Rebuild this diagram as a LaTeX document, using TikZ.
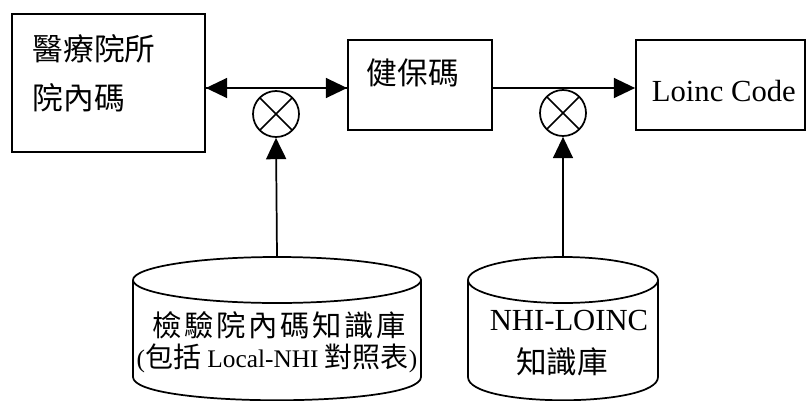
\documentclass[tikz,border=0pt]{standalone}
\usepackage{fontspec}
\setmainfont{Liberation Serif}
\newfontfamily\cjk{Noto Sans CJK TC}
\newfontfamily\cjkwide[LetterSpace=9]{Noto Sans CJK TC}
\usetikzlibrary{arrows.meta,positioning}

\tikzset{every picture/.style={line width=1.3pt}}
\tikzset{
  blk/.style={draw, inner sep=0pt},
  mixer/.style={draw, circle, inner sep=0pt, minimum size=34.5pt,
    path picture={\draw (path picture bounding box.south west) -- (path picture bounding box.north east)
      (path picture bounding box.north west) -- (path picture bounding box.south east);}},
  tip/.style={-{Triangle[length=16pt,width=15pt]}},
  big/.style={font=\fontsize{23}{26}\selectfont\cjk},
  bigrm/.style={font=\fontsize{23}{26}\selectfont}
}

\begin{document}
\begin{tikzpicture}[x=0.75pt,y=0.75pt,yscale=-1,xscale=1]
\useasboundingbox (0,0) rectangle (810,400);

%Shape: Rectangle [hospital]
\node [blk, minimum width=144.75pt, minimum height=103.5pt] (hosp) at (108.5,83) {};
%Shape: Rectangle [nhi code]
\node [blk, minimum width=108pt, minimum height=67.5pt] (nhi) at (420,85) {};
%Shape: Rectangle [loinc]
\node [blk, minimum width=126.75pt, minimum height=67.5pt] (loinc) at (720.5,85) {};

%Shape: Circle
\node [mixer] (mixA) at (276,114) {};
%Shape: Circle
\node [mixer] (mixB) at (563,113) {};

%Shape: Can [local db]
\draw (277,280) ellipse [x radius=144, y radius=23];
\draw (133,280) -- (133,377) .. controls (133,408) and (421,408) .. (421,377) -- (421,280);
\coordinate (dbAtop) at (277,257);
%Shape: Can [nhi-loinc db]
\draw (563,280) ellipse [x radius=95, y radius=23];
\draw (468,280) -- (468,377) .. controls (468,408) and (658,408) .. (658,377) -- (658,280);
\coordinate (dbBtop) at (563,257);

%Straight Lines
\coordinate (lvl) at (0,88);
\draw [tip] (nhi.west |- lvl) -- (hosp.east |- lvl);
\draw [tip] (hosp.east |- lvl) -- (nhi.west |- lvl);
\draw [tip] (nhi.east |- lvl) -- (loinc.west |- lvl);
\draw [tip] (dbAtop) -- (mixA.south);
\draw [tip] (dbBtop) -- (mixB.south);

% Text Node
\node [big, anchor=west, inner sep=0pt] (hospA) at (32,49) {醫療院所};
% Text Node
\node [big, anchor=west, inner sep=0pt] (hospB) at (32,98) {院內碼};
% Text Node
\node [big, anchor=west, inner sep=0pt] (nhitxt) at (366,73) {健保碼};
% Text Node
\node [bigrm, anchor=west, inner sep=0pt] (loinctxt) at (651,91) {Loinc Code};
% Text Node
\node [inner sep=0pt, font=\fontsize{22}{26}\selectfont\cjkwide] (dbAa) at (279,325) {檢驗院內碼知識庫};
% Text Node
\node [inner sep=0pt, font=\fontsize{19}{22}\selectfont] (dbAb) at (277,358)
  {({\cjk\fontsize{21}{22}\selectfont 包括} Local-NHI {\cjk\fontsize{21}{22}\selectfont 對照表})};
% Text Node
\node [bigrm, inner sep=0pt] (dbBa) at (569,320) {NHI-LOINC};
% Text Node
\node [big, inner sep=0pt] (dbBb) at (562,362) {知識庫};
\end{tikzpicture}
\end{document}
